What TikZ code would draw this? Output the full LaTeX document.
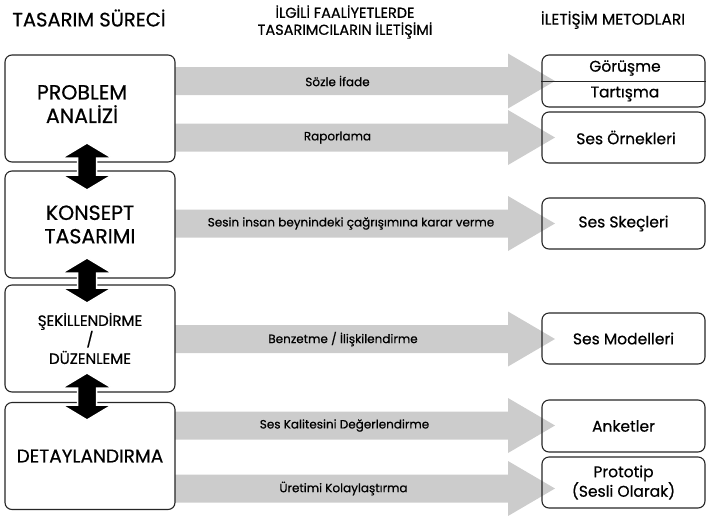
\documentclass[tikz,border=0pt]{standalone}
\usepackage{fontspec}
\setmainfont{Poppins}[FakeBold=0.6]
\begin{document}
\begin{tikzpicture}[x=1pt,y=-1pt,
  procbox/.style={draw=black!85, line width=1.1pt, rounded corners=7pt, fill=white,
    minimum width=170pt, minimum height=107pt, inner sep=0pt, align=center,
    font=\fontsize{20.5}{23.5}\selectfont},
  methbox/.style={draw=black!85, line width=1.1pt, rounded corners=7pt,
    minimum width=163pt, inner sep=0pt, align=center,
    font=\fontsize{15.5}{18}\selectfont},
  methtext/.style={font=\fontsize{15.5}{18}\selectfont, inner sep=0pt},
  flowlabel/.style={font=\fontsize{12}{14}\selectfont, inner sep=0pt},
  grayarrow/.style={fill=black!20},
  bidir/.style={fill=black, draw=white, line width=1.5pt},
  headtext/.style={align=center, inner sep=0pt}
]
\useasboundingbox (0,0) rectangle (707,515);

% headers
\node[headtext, font=\fontsize{19.5}{22}\selectfont] (h1) at (89,18) {TASARIM SÜRECİ};
\node[headtext, font=\fontsize{14.5}{17}\selectfont] (h2) at (345,22) {İLGİLİ FAALİYETLERDE\\TASARIMCILARIN İLETİŞİMİ};
\node[headtext, font=\fontsize{15.5}{18}\selectfont] (h3) at (613,20) {İLETİŞİM METODLARI};

% gray block arrows with labels
\foreach \c/\t/\n/\lx in {81/{Sözle İfade}/f1/337.5, 137.5/{Raporlama}/f2/337.5,
    223.5/{Sesin insan beynindeki çağrışımına karar verme}/f3/351,
    339/{Benzetme / İlişkilendirme}/f4/343,
    425.5/{Ses Kalitesini Değerlendirme}/f5/344.5, 488.5/{Üretimi Kolaylaştırma}/f6/343.5}{
  \fill[grayarrow] (175,{\c-14}) -- (508,{\c-14}) -- (508,{\c-27.5}) -- (555,\c)
     -- (508,{\c+27.5}) -- (508,{\c+14}) -- (175,{\c+14}) -- cycle;
  \node[flowlabel] (\n) at (\lx,\c) {\t};
}

% design process boxes
\node[procbox] (p1) at (90,108.5) {};
\node[align=center, inner sep=0pt, font=\fontsize{20.5}{23.5}\selectfont] (p1t) at (82,104) {PROBLEM\\ANALİZİ};
\node[procbox] (p2) at (90,224.5) {KONSEPT\\TASARIMI};
\node[procbox, font=\fontsize{15}{19}\selectfont] (p3) at (90,338.5) {ŞEKİLLENDİRME\\/\\DÜZENLEME};
\node[procbox, font=\fontsize{18.5}{21}\selectfont] (p4) at (90,456) {DETAYLANDIRMA};

% method boxes
\node[methbox, minimum height=52pt] (m1) at (623.5,81) {};
\draw[line width=0.9pt, black!85] (m1.west) -- (m1.east);
\node[methtext] (m1a) at (625,68) {Görüşme};
\node[methtext] (m1b) at (625,94) {Tartışma};
\node[methbox, minimum height=51pt] (m2) at (623.5,137.5) {\hspace*{5pt}Ses Örnekleri};
\node[methbox, minimum height=51pt] (m3) at (623.5,223.5) {Ses Skeçleri};
\node[methbox, minimum height=51pt] (m4) at (623.5,338.5) {Ses Modelleri};
\node[methbox, minimum height=52pt] (m5) at (623.5,426) {Anketler};
\node[methbox, minimum height=51pt, font=\fontsize{15.5}{18.5}\selectfont] (m6) at (623.5,482.5) {Prototip\\(Sesli Olarak)};

% black double arrows between process boxes
\foreach \t/\b in {143/190, 258/303, 373/420}{
  \filldraw[bidir] (87,\t) -- (112,{\t+15}) -- (96.5,{\t+15}) -- (96.5,{\b-15})
    -- (112,{\b-15}) -- (87,\b) -- (62,{\b-15}) -- (77.5,{\b-15})
    -- (77.5,{\t+15}) -- (62,{\t+15}) -- cycle;
}
\end{tikzpicture}
\end{document}
